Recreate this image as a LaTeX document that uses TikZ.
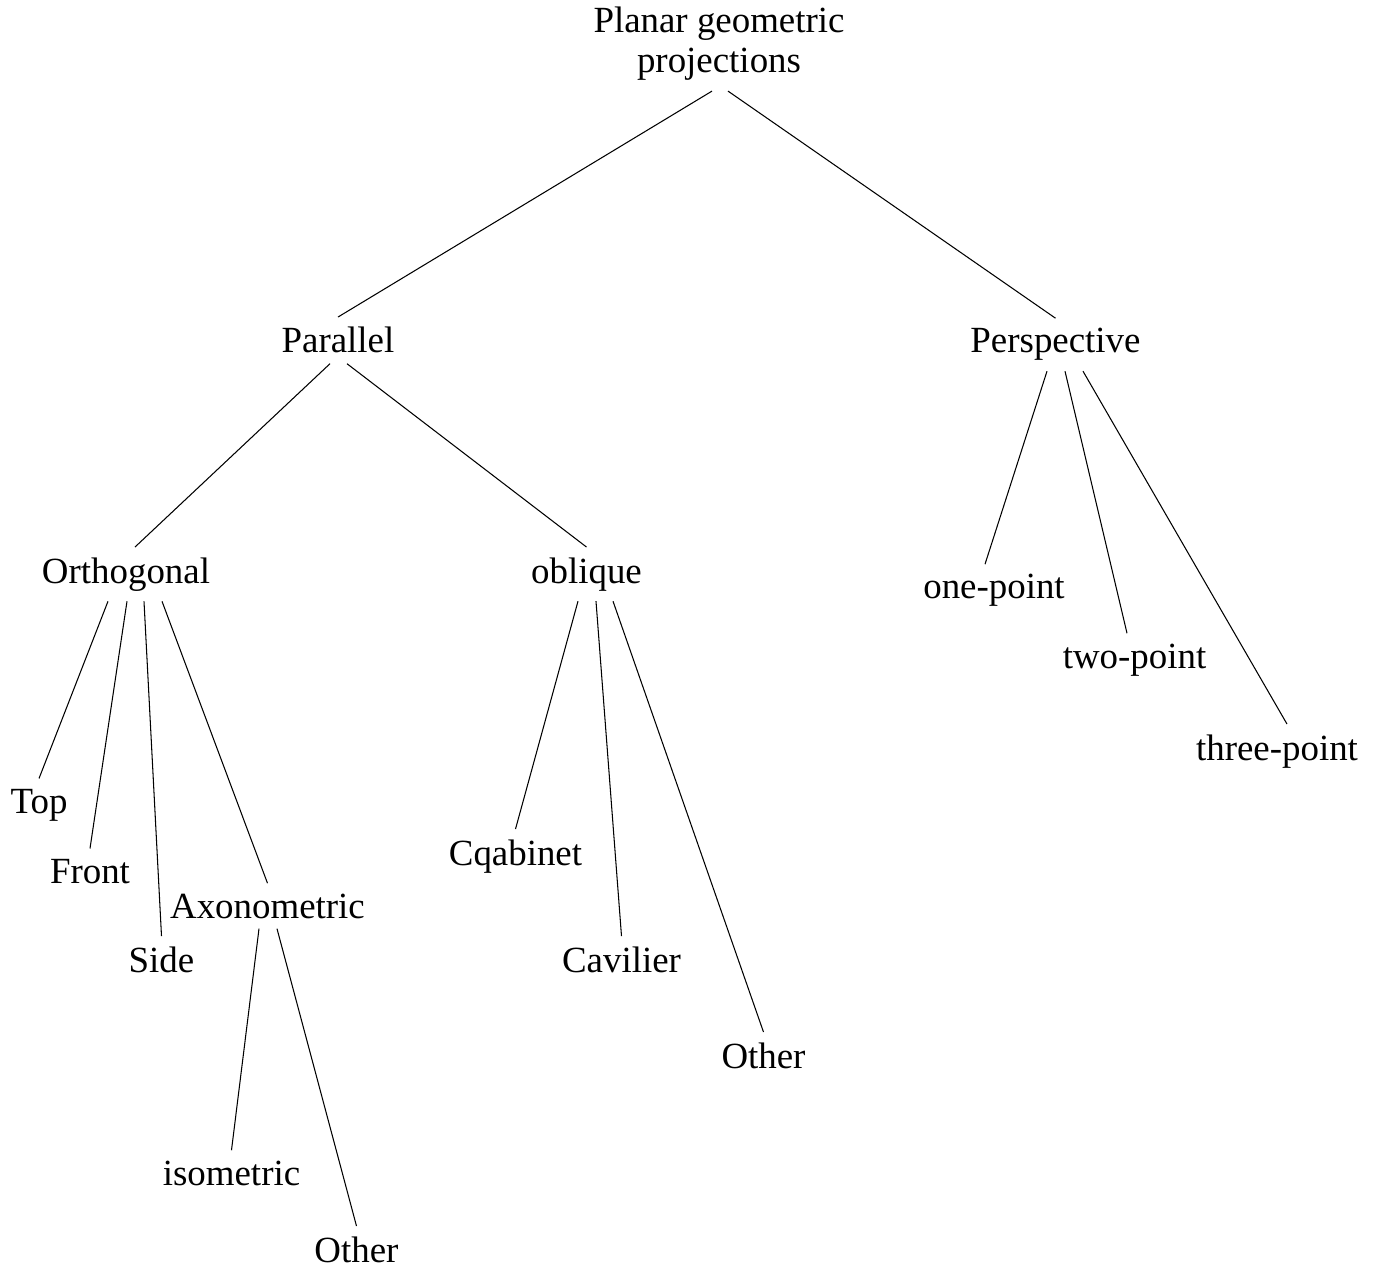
\documentclass[tikz,border=0pt]{standalone}
\usepackage{fontspec}
\setmainfont{Liberation Serif}
\usetikzlibrary{positioning}
\tikzset{
    proj/.style={anchor=base, inner sep=0.2cm, align=center,
        font=\fontsize{21}{22.8}\selectfont},
    branch/.style={color=black, line width=0.6pt}
}

\begin{document}
\begin{tikzpicture}[x=0.02cm, y=-0.02cm]
        \useasboundingbox (0,0) rectangle (1380,1270);

        \node[proj, anchor=center] (root) at (719,44) {Planar geometric\\projections};

        \node[proj] (par) at (338,353) {Parallel};
        \node[proj] (persp) at (1055.5,353) {Perspective};

        \node[proj] (ortho) at (126,583) {Orthogonal};
        \node[proj] (obl) at (586.5,583) {oblique};
        \node[proj] (onep) at (994,599) {one-point};
        \node[proj] (twop) at (1134.5,668) {two-point};
        \node[proj] (threep) at (1277,760) {three-point};

        \node[proj] (top) at (39,813) {Top};
        \node[proj] (front) at (90,883) {Front};
        \node[proj] (axo) at (267.5,918) {Axonometric};
        \node[proj] (side) at (161.5,972) {Side};
        \node[proj] (iso) at (231.5,1185) {isometric};
        \node[proj] (axoother) at (356.5,1262) {Other};

        \node[proj] (cab) at (515.5,865) {Cqabinet};
        \node[proj] (cav) at (621.5,972) {Cavilier};
        \node[proj] (oblother) at (763.5,1068) {Other};

        % parent/offset/child/offset
        \foreach \from/\dfrom/\to/\dto in {root/-7/par/0, root/9/persp/0,
            par/-8/ortho/9, par/9/obl/0,
            persp/-8.5/onep/-9, persp/9.5/twop/-7.5, persp/27.5/threep/10,
            ortho/-18/top/0, ortho/1/front/0, ortho/18/side/0, ortho/36/axo/0,
            obl/-8.5/cab/0, obl/9.5/cav/0, obl/26.5/oblother/0,
            axo/-8.5/iso/0, axo/9.5/axoother/0}
            \draw[branch] ([shift={(\dfrom,0)}]\from.south) -- ([shift={(\dto,0)}]\to.north);
\end{tikzpicture}
\end{document}
